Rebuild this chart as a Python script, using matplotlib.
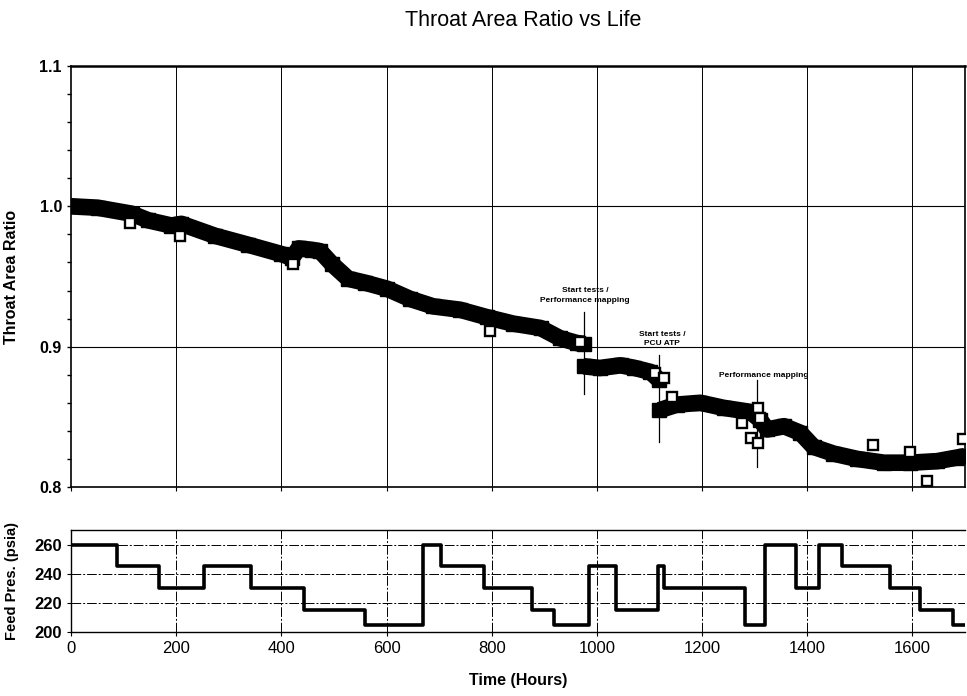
import matplotlib
matplotlib.use('Agg')
import matplotlib.pyplot as plt
import numpy as np

plt.rcParams['font.family'] = ['Liberation Sans', 'DejaVu Sans']

# throat area ratio band, three test blocks (hours, ratio)
seg1_t = [0, 51, 116, 147, 191, 210, 274, 337, 400, 420, 433, 458, 474, 496,
          527, 560, 601, 645, 689, 740, 791, 841, 893, 930, 962, 975]
seg1_r = [1.0, 0.999, 0.9947, 0.990, 0.9863, 0.9875, 0.979, 0.9726, 0.966, 0.9633,
          0.970, 0.969, 0.968, 0.959, 0.9484, 0.9455, 0.9413, 0.934, 0.9287, 0.9263,
          0.921, 0.9164, 0.9133, 0.906, 0.9026, 0.902]
seg2_t = [975, 1006, 1045, 1070, 1102, 1119]
seg2_r = [0.886, 0.8848, 0.8867, 0.885, 0.882, 0.876]
seg3_t = [1119, 1152, 1197, 1241, 1292, 1310, 1324, 1356, 1387, 1412, 1450, 1495,
          1546, 1596, 1647, 1685, 1700]
seg3_r = [0.8547, 0.8587, 0.860, 0.8564, 0.8535, 0.848, 0.841, 0.8433, 0.8386, 0.8286,
          0.8238, 0.820, 0.8173, 0.8173, 0.8184, 0.821, 0.822]

# scattered points that stand out of the band
out_t = [112, 207, 423, 797, 968, 1111, 1127, 1142, 1276, 1307, 1310, 1293, 1307,
         1526, 1595, 1628, 1697]
out_r = [0.988, 0.979, 0.9587, 0.911, 0.9035, 0.8813, 0.8778, 0.864, 0.8455, 0.8566,
         0.849, 0.835, 0.8315, 0.8297, 0.8248, 0.804, 0.834]

# feed pressure steps (start hour, psia)
feed_t = [0, 87, 168, 253, 342, 444, 560, 669, 703, 785, 876, 919, 986, 1037,
          1117, 1127, 1282, 1320, 1378, 1422, 1466, 1557, 1615, 1677, 1700]
feed_p = [260, 245, 230, 245, 230, 215, 205, 260, 245, 230, 215, 205, 245, 215,
          245, 230, 205, 260, 230, 260, 245, 230, 215, 205, 205]

# annotations: text, x, y, marker line x, line y range
notes = ['Start tests /\nPerformance mapping', 'Start tests /\nPCU ATP', 'Performance mapping']
note_x = [978, 1124, 1318]
note_y = [0.9364, 0.9054, 0.8798]
mark_x = [975, 1119, 1305]
mark_y0 = [0.925, 0.894, 0.876]
mark_y1 = [0.866, 0.832, 0.814]

fig = plt.figure(figsize=(9.67, 6.96), dpi=100)
ax = fig.add_axes([0.0734, 0.3003, 0.9245, 0.6049])
ax2 = fig.add_axes([0.0734, 0.092, 0.9245, 0.1466], sharex=ax)

for x in range(200, 1700, 200):
    ax.axvline(x, color='black', lw=0.7, zorder=0)
for y in [1.0, 0.9]:
    ax.axhline(y, color='black', lw=0.8, zorder=0)

for t, r in [(seg1_t, seg1_r), (seg2_t, seg2_r), (seg3_t, seg3_r)]:
    ax.plot(t, r, color='black', lw=12, solid_capstyle='butt', zorder=2)
    ax.plot(t, r, 's', color='black', ms=10, zorder=2)
ax.plot(out_t, out_r, 's', ms=6.5, mfc='white', mec='black', mew=1.7, zorder=3)

for i in range(len(notes)):
    ax.text(note_x[i], note_y[i], notes[i], ha='center', va='center',
            fontsize=6, fontweight='bold', linespacing=1.5, zorder=1)
    ax.plot([mark_x[i], mark_x[i]], [mark_y0[i], mark_y1[i]], color='black', lw=0.9, zorder=1)

ax.set_xlim(0, 1700)
ax.set_ylim(0.8, 1.1)
ax.set_yticks([0.8, 0.9, 1.0, 1.1])
ax.set_yticklabels(['0.8', '0.9', '1.0', '1.1'], fontweight='bold')
ax.set_yticks(np.arange(0.8, 1.1, 0.02), minor=True)
ax.tick_params(axis='y', which='both', direction='out', labelsize=11.5, length=3, width=1)
ax.tick_params(axis='x', which='both', labelbottom=False, length=3)
ax.set_ylabel('Throat Area Ratio', fontsize=11.5, fontweight='bold')
ax.yaxis.set_label_coords(-0.058, 0.5)
for s in ax.spines.values():
    s.set_linewidth(1.2)
ax.spines['top'].set_linewidth(1.8)

# lower panel: feed pressure
for x in range(200, 1700, 200):
    ax2.axvline(x, color='black', lw=0.7, ls=(0, (10, 2, 2, 2)), zorder=0)
for y in [220, 240, 260]:
    ax2.axhline(y, color='black', lw=0.7, ls=(0, (10, 2, 2, 2)), zorder=0)
ax2.step(feed_t, feed_p, where='post', color='black', lw=2.6)
ax2.set_ylim(200, 270)
ax2.set_yticks([200, 220, 240, 260])
ax2.set_yticklabels(['200', '220', '240', '260'], fontweight='bold')
ax2.set_xticks(range(0, 1700, 200))
ax2.tick_params(axis='both', labelsize=12, length=3)
ax2.set_ylabel('Feed Pres. (psia)', fontsize=10.5, fontweight='bold')
ax2.yaxis.set_label_coords(-0.058, 0.5)
ax2.set_xlabel('Time (Hours)', fontsize=11.5, fontweight='bold')
ax2.xaxis.set_label_coords(0.5, -0.40)
for s in ax2.spines.values():
    s.set_linewidth(1.0)
ax2.spines['right'].set_visible(False)

fig.text(0.541, 0.971, 'Throat Area Ratio vs Life', ha='center', va='center', fontsize=15.5)

fig.savefig('out.png', dpi=100)
